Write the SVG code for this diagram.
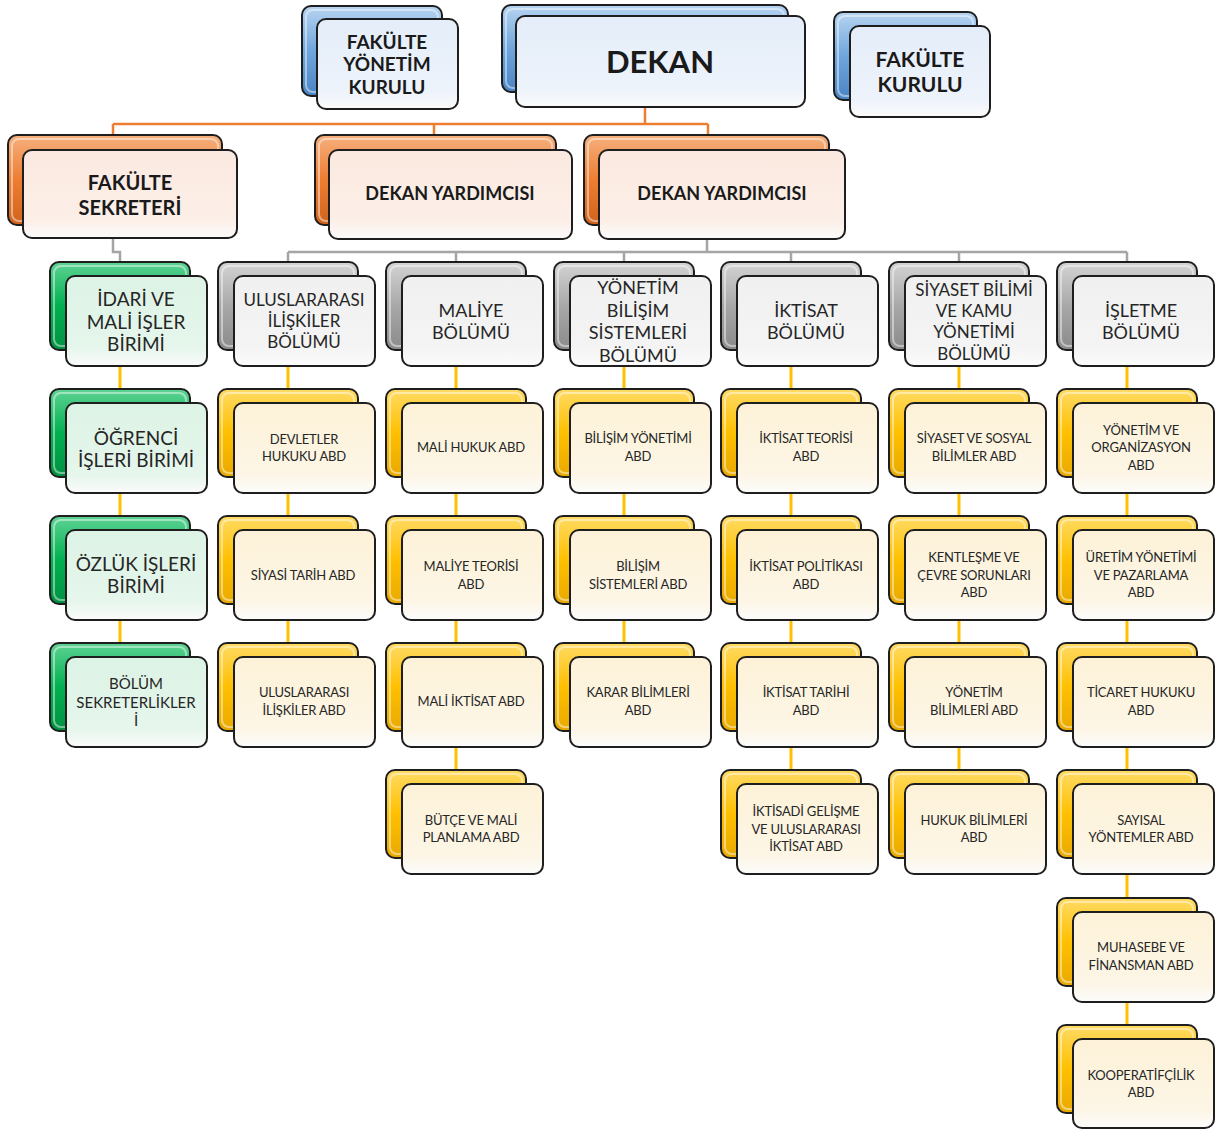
<svg xmlns="http://www.w3.org/2000/svg" width="1215" height="1131" viewBox="0 0 1215 1131">
<defs>
<linearGradient id="bBlue" x1="0" y1="0" x2="0" y2="1"><stop offset="0" stop-color="#b7d4f1"/><stop offset="0.5" stop-color="#6fa6dc"/><stop offset="1" stop-color="#4a84c4"/></linearGradient>
<linearGradient id="bOrange" x1="0" y1="0" x2="0" y2="1"><stop offset="0" stop-color="#f6b07e"/><stop offset="0.5" stop-color="#ed7d31"/><stop offset="1" stop-color="#d0621c"/></linearGradient>
<linearGradient id="bGreen" x1="0" y1="0" x2="0" y2="1"><stop offset="0" stop-color="#5ed394"/><stop offset="0.5" stop-color="#00b050"/><stop offset="1" stop-color="#009142"/></linearGradient>
<linearGradient id="bGray" x1="0" y1="0" x2="0" y2="1"><stop offset="0" stop-color="#d4d4d4"/><stop offset="0.5" stop-color="#a8a8a8"/><stop offset="1" stop-color="#8a8a8a"/></linearGradient>
<linearGradient id="bGold" x1="0" y1="0" x2="0" y2="1"><stop offset="0" stop-color="#ffdb66"/><stop offset="0.5" stop-color="#ffc000"/><stop offset="1" stop-color="#e8a900"/></linearGradient>
<linearGradient id="fBlue" x1="0" y1="0" x2="0" y2="1"><stop offset="0" stop-color="#e4edf9"/><stop offset="0.8" stop-color="#edf3fb"/><stop offset="1" stop-color="#fbfbfb"/></linearGradient>
<linearGradient id="fOrange" x1="0" y1="0" x2="0" y2="1"><stop offset="0" stop-color="#fbe9df"/><stop offset="0.8" stop-color="#fcefe8"/><stop offset="1" stop-color="#fbfbfb"/></linearGradient>
<linearGradient id="fGreen" x1="0" y1="0" x2="0" y2="1"><stop offset="0" stop-color="#dcf3e5"/><stop offset="0.8" stop-color="#e6f6ec"/><stop offset="1" stop-color="#fbfbfb"/></linearGradient>
<linearGradient id="fGray" x1="0" y1="0" x2="0" y2="1"><stop offset="0" stop-color="#f0f0f0"/><stop offset="0.8" stop-color="#f4f4f4"/><stop offset="1" stop-color="#fcfcfc"/></linearGradient>
<linearGradient id="fGold" x1="0" y1="0" x2="0" y2="1"><stop offset="0" stop-color="#fdf2d8"/><stop offset="0.8" stop-color="#fdf6e6"/><stop offset="1" stop-color="#fcfcfc"/></linearGradient>
</defs>
<style>
.back{stroke:#1e1e1e;stroke-width:2}
.shine{fill:none;stroke:#ffffff;stroke-opacity:0.45;stroke-width:2}
.front{stroke:#1e1e1e;stroke-width:2}
.blue .back{fill:url(#bBlue)} .blue .front{fill:url(#fBlue)}
.orange .back{fill:url(#bOrange)} .orange .front{fill:url(#fOrange)}
.green .back{fill:url(#bGreen)} .green .front{fill:url(#fGreen)}
.gray .back{fill:url(#bGray)} .gray .front{fill:url(#fGray)}
.gold .back{fill:url(#bGold)} .gold .front{fill:url(#fGold)}
text{font-family:Lato,"Liberation Sans",sans-serif;fill:#1a1a1a;text-anchor:middle;dominant-baseline:central}
.tb{font-weight:bold}
.t19{font-size:19px}
.t18{font-size:18px}
.t17{font-size:17px}
.abd{font-size:13px;letter-spacing:-0.2px;fill:#262626}
.dep{fill:#262626}
.cOr{fill:none;stroke:#ed7d31;stroke-width:2.5}
.cGr{fill:none;stroke:#a5a5a5;stroke-width:2.5}
.cGo{fill:none;stroke:#ffc000;stroke-width:3}
</style>

<g id="connectors">
<path class="cGo" d="M120,350V643M288,350V643M456,350V770M624,350V643M791,350V770M959,350V770M1127,350V1025"/>
<path class="cGr" d="M113,238V252H120V262M707,239V252M288,252H1127M288,252V262M456,252V262M624,252V262M791,252V262M959,252V262M1127,252V262"/>
<path class="cOr" d="M645,107V124M113,124H708M113,124V135M434,124V135M708,124V135"/>
</g>

<g id="n-fyk" class="node blue">
<rect class="back" x="302" y="6" width="140" height="90" rx="9"/><rect class="shine" x="306" y="10" width="132" height="82" rx="7"/>
<rect class="front" x="317" y="19" width="141" height="90" rx="9"/>
<text class="tb t19" x="387"><tspan x="387" y="41">FAKÜLTE</tspan><tspan x="387" y="63">YÖNETİM</tspan><tspan x="387" y="86">KURULU</tspan></text>
</g>
<g id="n-dekan" class="node blue">
<rect class="back" x="502" y="5" width="286" height="87" rx="9"/><rect class="shine" x="506" y="9" width="278" height="79" rx="7"/>
<rect class="front" x="516" y="16" width="289" height="91" rx="9"/>
<text class="tb" style="font-size:31px" x="660" y="61">DEKAN</text>
</g>
<g id="n-fk" class="node blue">
<rect class="back" x="834" y="12" width="143" height="88" rx="9"/><rect class="shine" x="838" y="16" width="135" height="80" rx="7"/>
<rect class="front" x="850" y="26" width="140" height="91" rx="9"/>
<text class="tb" style="font-size:21px" x="920"><tspan x="920" y="58">FAKÜLTE</tspan><tspan x="920" y="83">KURULU</tspan></text>
</g>

<g id="n-fs" class="node orange">
<rect class="back" x="8" y="135" width="214" height="90" rx="9"/><rect class="shine" x="12" y="139" width="206" height="82" rx="7"/>
<rect class="front" x="23" y="150" width="214" height="88" rx="9"/>
<text class="tb" style="font-size:20px" x="130"><tspan x="130" y="182">FAKÜLTE</tspan><tspan x="130" y="207">SEKRETERİ</tspan></text>
</g>
<g id="n-dy1" class="node orange">
<rect class="back" x="315" y="135" width="241" height="90" rx="9"/><rect class="shine" x="319" y="139" width="233" height="82" rx="7"/>
<rect class="front" x="329" y="150" width="243" height="89" rx="9"/>
<text class="tb t18" x="450" y="193">DEKAN YARDIMCISI</text>
</g>
<g id="n-dy2" class="node orange">
<rect class="back" x="584" y="135" width="245" height="90" rx="9"/><rect class="shine" x="588" y="139" width="237" height="82" rx="7"/>
<rect class="front" x="599" y="150" width="246" height="89" rx="9"/>
<text class="tb t18" x="722" y="193">DEKAN YARDIMCISI</text>
</g>

<!-- column 1: green -->
<g id="n-idari" class="node green">
<rect class="back" x="50" y="262" width="140" height="88" rx="9"/><rect class="shine" x="54" y="266" width="132" height="80" rx="7"/>
<rect class="front" x="66" y="276" width="141" height="90" rx="9"/>
<text class="dep t19" x="136"><tspan x="136" y="298">İDARİ VE</tspan><tspan x="136" y="321">MALİ İŞLER</tspan><tspan x="136" y="343">BİRİMİ</tspan></text>
</g>
<g id="n-ogrenci" class="node green">
<rect class="back" x="50" y="389" width="140" height="88" rx="9"/><rect class="shine" x="54" y="393" width="132" height="80" rx="7"/>
<rect class="front" x="66" y="403" width="141" height="90" rx="9"/>
<text class="dep t19" x="136"><tspan x="136" y="437">ÖĞRENCİ</tspan><tspan x="136" y="459">İŞLERİ BİRİMİ</tspan></text>
</g>
<g id="n-ozluk" class="node green">
<rect class="back" x="50" y="516" width="140" height="88" rx="9"/><rect class="shine" x="54" y="520" width="132" height="80" rx="7"/>
<rect class="front" x="66" y="530" width="141" height="90" rx="9"/>
<text class="dep t19" x="136"><tspan x="136" y="563">ÖZLÜK İŞLERİ</tspan><tspan x="136" y="585">BİRİMİ</tspan></text>
</g>
<g id="n-bolumsek" class="node green">
<rect class="back" x="50" y="643" width="140" height="88" rx="9"/><rect class="shine" x="54" y="647" width="132" height="80" rx="7"/>
<rect class="front" x="66" y="657" width="141" height="90" rx="9"/>
<text class="dep" style="font-size:15px" x="136"><tspan x="136" y="683">BÖLÜM</tspan><tspan x="136" y="702">SEKRETERLİKLER</tspan><tspan x="136" y="720">İ</tspan></text>
</g>

<!-- column 2 -->
<g id="n-uib" class="node gray">
<rect class="back" x="218" y="262" width="140" height="88" rx="9"/><rect class="shine" x="222" y="266" width="132" height="80" rx="7"/>
<rect class="front" x="234" y="276" width="141" height="90" rx="9"/>
<text class="dep t17" x="304"><tspan x="304" y="299">ULUSLARARASI</tspan><tspan x="304" y="320">İLİŞKİLER</tspan><tspan x="304" y="341">BÖLÜMÜ</tspan></text>
</g>
<g id="n-devletler" class="node gold">
<rect class="back" x="218" y="389" width="140" height="88" rx="9"/><rect class="shine" x="222" y="393" width="132" height="80" rx="7"/>
<rect class="front" x="234" y="403" width="141" height="90" rx="9"/>
<text class="abd" x="304"><tspan x="304" y="439">DEVLETLER</tspan><tspan x="304" y="456">HUKUKU ABD</tspan></text>
</g>
<g id="n-siyasitarih" class="node gold">
<rect class="back" x="218" y="516" width="140" height="88" rx="9"/><rect class="shine" x="222" y="520" width="132" height="80" rx="7"/>
<rect class="front" x="234" y="530" width="141" height="90" rx="9"/>
<text class="abd" x="303" y="575">SİYASİ TARİH ABD</text>
</g>
<g id="n-uiabd" class="node gold">
<rect class="back" x="218" y="643" width="140" height="88" rx="9"/><rect class="shine" x="222" y="647" width="132" height="80" rx="7"/>
<rect class="front" x="234" y="657" width="141" height="90" rx="9"/>
<text class="abd" x="304"><tspan x="304" y="692">ULUSLARARASI</tspan><tspan x="304" y="710">İLİŞKİLER ABD</tspan></text>
</g>

<!-- column 3 -->
<g id="n-maliye" class="node gray">
<rect class="back" x="386" y="262" width="140" height="88" rx="9"/><rect class="shine" x="390" y="266" width="132" height="80" rx="7"/>
<rect class="front" x="402" y="276" width="141" height="90" rx="9"/>
<text class="dep t18" x="471"><tspan x="471" y="310">MALİYE</tspan><tspan x="471" y="332">BÖLÜMÜ</tspan></text>
</g>
<g id="n-malihukuk" class="node gold">
<rect class="back" x="386" y="389" width="140" height="88" rx="9"/><rect class="shine" x="390" y="393" width="132" height="80" rx="7"/>
<rect class="front" x="402" y="403" width="141" height="90" rx="9"/>
<text class="abd" x="471" y="447">MALİ HUKUK ABD</text>
</g>
<g id="n-maliyeteorisi" class="node gold">
<rect class="back" x="386" y="516" width="140" height="88" rx="9"/><rect class="shine" x="390" y="520" width="132" height="80" rx="7"/>
<rect class="front" x="402" y="530" width="141" height="90" rx="9"/>
<text class="abd" x="471"><tspan x="471" y="566">MALİYE TEORİSİ</tspan><tspan x="471" y="584">ABD</tspan></text>
</g>
<g id="n-maliiktisat" class="node gold">
<rect class="back" x="386" y="643" width="140" height="88" rx="9"/><rect class="shine" x="390" y="647" width="132" height="80" rx="7"/>
<rect class="front" x="402" y="657" width="141" height="90" rx="9"/>
<text class="abd" x="471" y="701">MALİ İKTİSAT ABD</text>
</g>
<g id="n-butce" class="node gold">
<rect class="back" x="386" y="770" width="140" height="88" rx="9"/><rect class="shine" x="390" y="774" width="132" height="80" rx="7"/>
<rect class="front" x="402" y="784" width="141" height="90" rx="9"/>
<text class="abd" x="471"><tspan x="471" y="820">BÜTÇE VE MALİ</tspan><tspan x="471" y="837">PLANLAMA ABD</tspan></text>
</g>

<!-- column 4 -->
<g id="n-ybs" class="node gray">
<rect class="back" x="554" y="262" width="140" height="88" rx="9"/><rect class="shine" x="558" y="266" width="132" height="80" rx="7"/>
<rect class="front" x="570" y="276" width="141" height="90" rx="9"/>
<text class="dep t18" x="638"><tspan x="638" y="287">YÖNETİM</tspan><tspan x="638" y="310">BİLİŞİM</tspan><tspan x="638" y="332">SİSTEMLERİ</tspan><tspan x="638" y="355">BÖLÜMÜ</tspan></text>
</g>
<g id="n-bilyon" class="node gold">
<rect class="back" x="554" y="389" width="140" height="88" rx="9"/><rect class="shine" x="558" y="393" width="132" height="80" rx="7"/>
<rect class="front" x="570" y="403" width="141" height="90" rx="9"/>
<text class="abd" x="638"><tspan x="638" y="438">BİLİŞİM YÖNETİMİ</tspan><tspan x="638" y="456">ABD</tspan></text>
</g>
<g id="n-bilsis" class="node gold">
<rect class="back" x="554" y="516" width="140" height="88" rx="9"/><rect class="shine" x="558" y="520" width="132" height="80" rx="7"/>
<rect class="front" x="570" y="530" width="141" height="90" rx="9"/>
<text class="abd" x="638"><tspan x="638" y="566">BİLİŞİM</tspan><tspan x="638" y="584">SİSTEMLERİ ABD</tspan></text>
</g>
<g id="n-karar" class="node gold">
<rect class="back" x="554" y="643" width="140" height="88" rx="9"/><rect class="shine" x="558" y="647" width="132" height="80" rx="7"/>
<rect class="front" x="570" y="657" width="141" height="90" rx="9"/>
<text class="abd" x="638"><tspan x="638" y="692">KARAR BİLİMLERİ</tspan><tspan x="638" y="710">ABD</tspan></text>
</g>

<!-- column 5 -->
<g id="n-iktisat" class="node gray">
<rect class="back" x="721" y="262" width="140" height="88" rx="9"/><rect class="shine" x="725" y="266" width="132" height="80" rx="7"/>
<rect class="front" x="737" y="276" width="141" height="90" rx="9"/>
<text class="dep t18" x="806"><tspan x="806" y="310">İKTİSAT</tspan><tspan x="806" y="332">BÖLÜMÜ</tspan></text>
</g>
<g id="n-iktteori" class="node gold">
<rect class="back" x="721" y="389" width="140" height="88" rx="9"/><rect class="shine" x="725" y="393" width="132" height="80" rx="7"/>
<rect class="front" x="737" y="403" width="141" height="90" rx="9"/>
<text class="abd" x="806"><tspan x="806" y="438">İKTİSAT TEORİSİ</tspan><tspan x="806" y="456">ABD</tspan></text>
</g>
<g id="n-iktpol" class="node gold">
<rect class="back" x="721" y="516" width="140" height="88" rx="9"/><rect class="shine" x="725" y="520" width="132" height="80" rx="7"/>
<rect class="front" x="737" y="530" width="141" height="90" rx="9"/>
<text class="abd" x="806"><tspan x="806" y="566">İKTİSAT POLİTİKASI</tspan><tspan x="806" y="584">ABD</tspan></text>
</g>
<g id="n-ikttarih" class="node gold">
<rect class="back" x="721" y="643" width="140" height="88" rx="9"/><rect class="shine" x="725" y="647" width="132" height="80" rx="7"/>
<rect class="front" x="737" y="657" width="141" height="90" rx="9"/>
<text class="abd" x="806"><tspan x="806" y="692">İKTİSAT TARİHİ</tspan><tspan x="806" y="710">ABD</tspan></text>
</g>
<g id="n-iktgel" class="node gold">
<rect class="back" x="721" y="770" width="140" height="88" rx="9"/><rect class="shine" x="725" y="774" width="132" height="80" rx="7"/>
<rect class="front" x="737" y="784" width="141" height="90" rx="9"/>
<text class="abd" x="806"><tspan x="806" y="811">İKTİSADİ GELİŞME</tspan><tspan x="806" y="829">VE ULUSLARARASI</tspan><tspan x="806" y="846">İKTİSAT ABD</tspan></text>
</g>

<!-- column 6 -->
<g id="n-siyaset" class="node gray">
<rect class="back" x="889" y="262" width="140" height="88" rx="9"/><rect class="shine" x="893" y="266" width="132" height="80" rx="7"/>
<rect class="front" x="905" y="276" width="141" height="90" rx="9"/>
<text class="dep t17" x="974"><tspan x="974" y="289">SİYASET BİLİMİ</tspan><tspan x="974" y="310">VE KAMU</tspan><tspan x="974" y="331">YÖNETİMİ</tspan><tspan x="974" y="353">BÖLÜMÜ</tspan></text>
</g>
<g id="n-siysos" class="node gold">
<rect class="back" x="889" y="389" width="140" height="88" rx="9"/><rect class="shine" x="893" y="393" width="132" height="80" rx="7"/>
<rect class="front" x="905" y="403" width="141" height="90" rx="9"/>
<text class="abd" x="974"><tspan x="974" y="438">SİYASET VE SOSYAL</tspan><tspan x="974" y="456">BİLİMLER ABD</tspan></text>
</g>
<g id="n-kentlesme" class="node gold">
<rect class="back" x="889" y="516" width="140" height="88" rx="9"/><rect class="shine" x="893" y="520" width="132" height="80" rx="7"/>
<rect class="front" x="905" y="530" width="141" height="90" rx="9"/>
<text class="abd" x="974"><tspan x="974" y="557">KENTLEŞME VE</tspan><tspan x="974" y="575">ÇEVRE SORUNLARI</tspan><tspan x="974" y="592">ABD</tspan></text>
</g>
<g id="n-yonbil" class="node gold">
<rect class="back" x="889" y="643" width="140" height="88" rx="9"/><rect class="shine" x="893" y="647" width="132" height="80" rx="7"/>
<rect class="front" x="905" y="657" width="141" height="90" rx="9"/>
<text class="abd" x="974"><tspan x="974" y="692">YÖNETİM</tspan><tspan x="974" y="710">BİLİMLERİ ABD</tspan></text>
</g>
<g id="n-hukbil" class="node gold">
<rect class="back" x="889" y="770" width="140" height="88" rx="9"/><rect class="shine" x="893" y="774" width="132" height="80" rx="7"/>
<rect class="front" x="905" y="784" width="141" height="90" rx="9"/>
<text class="abd" x="974"><tspan x="974" y="820">HUKUK BİLİMLERİ</tspan><tspan x="974" y="837">ABD</tspan></text>
</g>

<!-- column 7 -->
<g id="n-isletme" class="node gray">
<rect class="back" x="1057" y="262" width="140" height="88" rx="9"/><rect class="shine" x="1061" y="266" width="132" height="80" rx="7"/>
<rect class="front" x="1073" y="276" width="141" height="90" rx="9"/>
<text class="dep t18" x="1141"><tspan x="1141" y="310">İŞLETME</tspan><tspan x="1141" y="332">BÖLÜMÜ</tspan></text>
</g>
<g id="n-yonorg" class="node gold">
<rect class="back" x="1057" y="389" width="140" height="88" rx="9"/><rect class="shine" x="1061" y="393" width="132" height="80" rx="7"/>
<rect class="front" x="1073" y="403" width="141" height="90" rx="9"/>
<text class="abd" x="1141"><tspan x="1141" y="430">YÖNETİM VE</tspan><tspan x="1141" y="447">ORGANİZASYON</tspan><tspan x="1141" y="465">ABD</tspan></text>
</g>
<g id="n-uretim" class="node gold">
<rect class="back" x="1057" y="516" width="140" height="88" rx="9"/><rect class="shine" x="1061" y="520" width="132" height="80" rx="7"/>
<rect class="front" x="1073" y="530" width="141" height="90" rx="9"/>
<text class="abd" x="1141"><tspan x="1141" y="557">ÜRETİM YÖNETİMİ</tspan><tspan x="1141" y="575">VE PAZARLAMA</tspan><tspan x="1141" y="592">ABD</tspan></text>
</g>
<g id="n-ticaret" class="node gold">
<rect class="back" x="1057" y="643" width="140" height="88" rx="9"/><rect class="shine" x="1061" y="647" width="132" height="80" rx="7"/>
<rect class="front" x="1073" y="657" width="141" height="90" rx="9"/>
<text class="abd" x="1141"><tspan x="1141" y="692">TİCARET HUKUKU</tspan><tspan x="1141" y="710">ABD</tspan></text>
</g>
<g id="n-sayisal" class="node gold">
<rect class="back" x="1057" y="770" width="140" height="88" rx="9"/><rect class="shine" x="1061" y="774" width="132" height="80" rx="7"/>
<rect class="front" x="1073" y="784" width="141" height="90" rx="9"/>
<text class="abd" x="1141"><tspan x="1141" y="820">SAYISAL</tspan><tspan x="1141" y="837">YÖNTEMLER ABD</tspan></text>
</g>
<g id="n-muhasebe" class="node gold">
<rect class="back" x="1057" y="898" width="140" height="88" rx="9"/><rect class="shine" x="1061" y="902" width="132" height="80" rx="7"/>
<rect class="front" x="1073" y="912" width="141" height="90" rx="9"/>
<text class="abd" x="1141"><tspan x="1141" y="947">MUHASEBE VE</tspan><tspan x="1141" y="965">FİNANSMAN ABD</tspan></text>
</g>
<g id="n-koop" class="node gold">
<rect class="back" x="1057" y="1025" width="140" height="88" rx="9"/><rect class="shine" x="1061" y="1029" width="132" height="80" rx="7"/>
<rect class="front" x="1073" y="1039" width="141" height="89" rx="9"/>
<text class="abd" x="1141"><tspan x="1141" y="1075">KOOPERATİFÇİLİK</tspan><tspan x="1141" y="1092">ABD</tspan></text>
</g>
</svg>
